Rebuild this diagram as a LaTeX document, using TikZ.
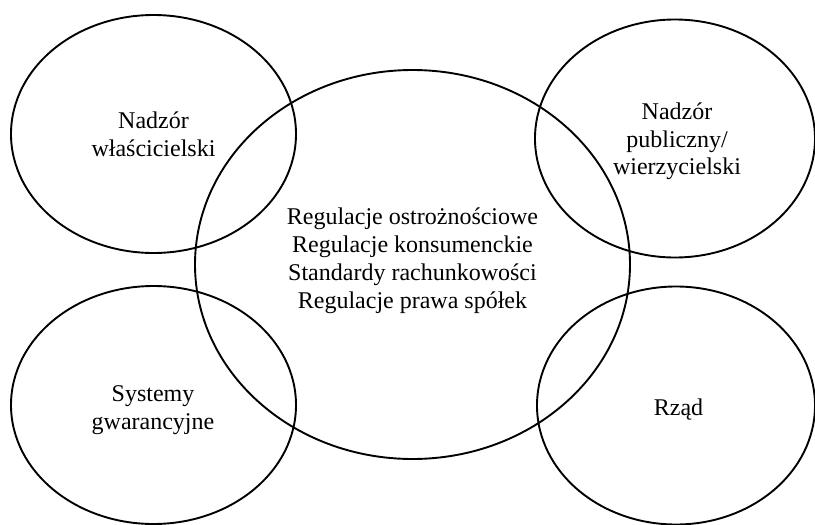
\documentclass[tikz,border=0pt]{standalone}
\usepackage{fontspec}
\setmainfont{Liberation Serif}
\usetikzlibrary{shapes.geometric}

\begin{document}
\begin{tikzpicture}[
    x=1pt, y=-1pt,
 ring/.style = {
        draw, ellipse, line width=1.9pt, inner sep=0pt,
        minimum width=280pt, minimum height=238pt},
 mytext/.style = {
        align=center, inner sep=0pt,
        font=\fontsize{24}{27.8}\selectfont}
                    ]
\useasboundingbox (0,0) rectangle (815,525);
% the ellipses
\node (eTL) [ring, minimum width=285pt] at (153.5,134)   {};
\node (eTR) [ring]                      at (675,138.5)   {};
\node (eBL) [ring, minimum width=285pt] at (153.5,405)   {};
\node (eBR) [ring, minimum width=278pt] at (676,405.5)   {};
\node (eC)  [ring, minimum width=435pt,
                   minimum height=389pt] at (412.5,264.5) {};
% the texts
\node (tTL) [mytext] at (153.5,134)  {Nadzór\\ właścicielski};
\node (tTR) [mytext] at (677,141.4)  {Nadzór\\ publiczny/\\ wierzycielski};
\node (tBL) [mytext] at (153,410)    {Systemy\\ gwarancyjne};
\node (tBR) [mytext] at (678.5,409.3) {Rząd};
\node (tC)  [mytext] at (412.5,260.9) {Regulacje ostrożnościowe\\
                                        Regulacje konsumenckie\\
                                        Standardy rachunkowości\\
                                        Regulacje prawa spółek};
\end{tikzpicture}
\end{document}
